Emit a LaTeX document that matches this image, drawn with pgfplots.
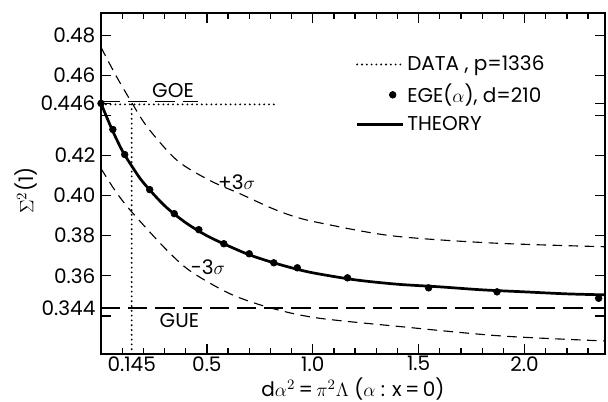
\documentclass[border=0pt]{standalone}
\usepackage{fontspec}
\setmainfont{Poppins}
\usepackage{pgfplots}
\pgfplotsset{compat=1.18}

\newcommand{\lbl}{\fontsize{12.5}{14}\selectfont}
\pgfplotsset{
  lineleg/.style={legend image code/.code={\draw[##1] (0cm,0cm) -- (1cm,0cm);}},
  dotleg/.style={legend image code/.code={\draw[##1] plot coordinates {(0.78cm,0cm)};}},
}

\begin{document}
\begin{tikzpicture}
\useasboundingbox (-63.125pt,-30pt) rectangle (316.875pt,221.25pt);
\begin{axis}[
  at={(0pt,0pt)}, anchor=south west,
  scale only axis, width=315pt, height=213pt,
  xmin=0, xmax=2.38, ymin=0.321, ymax=0.491,
  clip=false,
  axis line style={line width=1.1pt},
  tick align=inside,
  tick style={black, line width=0.8pt},
  major tick length=6pt, minor tick length=3.5pt,
  xtick={0.5,1,1.5,2}, xticklabels={},
  minor xtick={0.1,0.2,0.3,0.4,0.6,0.7,0.8,0.9,1.1,1.2,1.3,1.4,1.6,1.7,1.8,1.9,2.1,2.2,2.3},
  extra x ticks={0.145,0.5,1,1.5,2},
  extra x tick labels={0.145,0.5,1.0,1.5,2.0},
  extra x tick style={major tick length=0pt},
  ytick={0.34,0.36,0.38,0.40,0.42,0.44,0.46,0.48},
  yticklabels={{},0.36,0.38,0.40,0.42,{},0.46,0.48},
  extra y ticks={0.344,0.446}, extra y tick labels={0.344,0.446},
  every tick label/.append style={font=\lbl, text=black},
  xticklabel style={yshift=2pt},
  label style={font=\lbl},
  xlabel={d$\alpha^{2}$\,=\,$\pi^{2}\Lambda$ ($\alpha$ : x\,=\,0)},
  xlabel style={at={(axis description cs:0.5,-0.104)}, anchor=center},
  ylabel={$\Sigma^{2}$(1)},
  ylabel style={at={(axis description cs:-0.149,0.48)}, anchor=center},
  legend style={draw=none, fill=none, font=\lbl, at={(0.505,0.885)}, anchor=north west,
    row sep=3pt, inner sep=0pt, cells={anchor=west}},
]
% data: horizontal and vertical dotted lines
\addplot[black, line width=1.3pt, line cap=round, dash pattern=on 0pt off 3pt, lineleg]
  coordinates {(0,0.4455) (0.82,0.4455)};
\addlegendentry{DATA , p=1336}
\addplot[black, line width=1.3pt, line cap=round, dash pattern=on 0pt off 3pt, forget plot]
  coordinates {(0.145,0.4455) (0.145,0.321)};
% ensemble points
\addplot[black, only marks, mark=*, mark size=2.1pt, dotleg]
  coordinates {(0,0.446) (0.056,0.433) (0.112,0.4205) (0.23,0.403) (0.346,0.391)
  (0.462,0.383) (0.58,0.376) (0.70,0.371) (0.816,0.3665) (0.927,0.364)
  (1.164,0.359) (1.547,0.354) (1.87,0.352) (2.35,0.3488)};
\addlegendentry{EGE($\alpha$), d=210}
% theory
\addplot[black, line width=1.7pt, smooth, lineleg]
  coordinates {(0,0.446) (0.05,0.4335) (0.1,0.4225) (0.15,0.414) (0.2,0.4065)
  (0.3,0.395) (0.4,0.3865) (0.5,0.380) (0.6,0.375) (0.7,0.3705) (0.8,0.367)
  (0.9,0.364) (1.0,0.3615) (1.2,0.358) (1.4,0.3558) (1.6,0.3545) (1.8,0.353)
  (2.0,0.352) (2.2,0.351) (2.38,0.3505)};
\addlegendentry{THEORY}
% +3 sigma
\addplot[black, line width=0.7pt, dash pattern=on 6pt off 4pt, smooth, forget plot]
  coordinates {(0,0.474) (0.07,0.460) (0.139,0.4475) (0.22,0.434) (0.36,0.4175)
  (0.515,0.4075) (0.655,0.401) (0.80,0.394) (0.90,0.390) (1.02,0.3867)
  (1.37,0.380) (1.84,0.3764) (2.38,0.3745)};
% -3 sigma
\addplot[black, line width=0.7pt, dash pattern=on 6pt off 4pt, smooth, forget plot]
  coordinates {(0,0.4135) (0.07,0.402) (0.14,0.3925) (0.30,0.374) (0.42,0.3625)
  (0.61,0.351) (0.80,0.344) (1.02,0.339) (1.42,0.3346) (1.89,0.330) (2.38,0.3275)};
% GOE and GUE reference lines
\addplot[black, line width=0.8pt, dash pattern=on 12pt off 5pt, forget plot]
  coordinates {(0,0.4468) (0.46,0.4468)};
\addplot[black, line width=0.8pt, dash pattern=on 12pt off 5pt, forget plot]
  coordinates {(0,0.344) (2.38,0.344)};
\node[font=\lbl] at (axis cs:0.34,0.4525) {GOE};
\node[font=\lbl] at (axis cs:0.37,0.3378) {GUE};
\node[font=\lbl] at (axis cs:0.64,0.4068) {+3$\sigma$};
\node[font=\lbl] at (axis cs:0.505,0.3643) {-3$\sigma$};
\end{axis}
\end{tikzpicture}
\end{document}
